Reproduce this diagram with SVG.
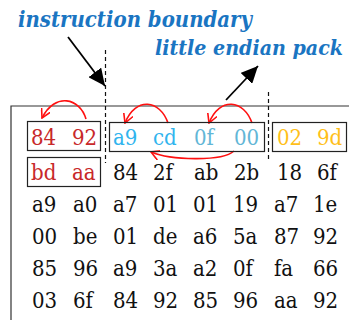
<svg xmlns="http://www.w3.org/2000/svg" width="349" height="322" viewBox="0 0 349 322">
<defs>
<style>
.hdr{font-family:"DejaVu Serif Condensed","DejaVu Serif",serif;font-stretch:condensed;font-weight:bold;font-style:italic;font-size:23px;fill:#1a75c2}
.hx{font-family:"DejaVu Serif Condensed","DejaVu Serif",serif;font-stretch:condensed;font-size:22px;fill:#111}
.red{fill:#c8282a}
.cy{fill:#30b4ee}
.cy2{fill:#62b6d6}
.or{fill:#ffbf1a}
.box{fill:none;stroke:#222;stroke-width:1.2}
.dash{stroke:#111;stroke-width:1.2;stroke-dasharray:4,3;fill:none}
.arc{fill:none;stroke:#ff1010;stroke-width:1.6}
.blk{stroke:#000;stroke-width:1.8;fill:none}
</style>
<marker id="ah" markerWidth="10" markerHeight="10" refX="9" refY="5" orient="auto" markerUnits="userSpaceOnUse" viewBox="0 0 10 10">
<path d="M0,0 L9,5 L0,10" fill="none" stroke="#ff1010" stroke-width="1.6"/>
</marker>
<marker id="bh" markerWidth="18" markerHeight="16" refX="17" refY="8" orient="auto" markerUnits="userSpaceOnUse" viewBox="0 0 18 16">
<path d="M0,0 L17,8 L0,16 Z" fill="#000"/>
</marker>
</defs>
<g id="frame">
<path d="M11,320 L11,106 L349,106" fill="none" stroke="#333" stroke-width="1.2"/>
</g>
<g id="labels">
<text class="hdr" x="18" y="27" textLength="234" lengthAdjust="spacingAndGlyphs">instruction boundary</text>
<text class="hdr" x="155" y="55" font-size="21" style="font-size:21px" textLength="188" lengthAdjust="spacingAndGlyphs">little endian pack</text>
</g>
<g id="connectors">
<line class="dash" x1="105.5" y1="50" x2="105.5" y2="163"/>
<line class="dash" x1="268.5" y1="92" x2="268.5" y2="162"/>
<line class="blk" x1="68" y1="37" x2="105" y2="86" marker-end="url(#bh)"/>
<line class="blk" x1="226" y1="100" x2="258" y2="66" marker-end="url(#bh)"/>
<path class="arc" d="M86,119 C80,98 55,92 42,118" marker-end="url(#ah)"/>
<path class="arc" d="M168,123 C160,100 136,96 125,123" marker-end="url(#ah)"/>
<path class="arc" d="M252,123 C244,100 220,96 209,123" marker-end="url(#ah)"/>
<path class="arc" d="M234,151 C222,162 170,160 151,152" marker-end="url(#ah)"/>
</g>
<g id="boxA"><rect class="box" x="27.5" y="121.5" width="73" height="29"/>
<text class="hx red" x="31" y="145">84</text><text class="hx red" x="72" y="145">92</text></g>
<g id="boxB"><rect class="box" x="27.5" y="157.5" width="73" height="29"/>
<text class="hx red" x="31" y="180">bd</text><text class="hx red" x="72" y="180">aa</text></g>
<g id="boxC"><rect class="box" x="109.5" y="122.5" width="155" height="29"/>
<text class="hx cy" x="113" y="145">a9</text><text class="hx cy" x="153" y="145">cd</text>
<text class="hx cy2" x="194" y="145">0f</text><text class="hx cy2" x="234" y="145">00</text></g>
<g id="boxD"><rect class="box" x="272.5" y="122.5" width="74" height="29"/>
<text class="hx or" x="277" y="145">02</text><text class="hx or" x="317" y="145">9d</text></g>
<g id="row2">
<text class="hx" x="113" y="180">84</text><text class="hx" x="153" y="180">2f</text><text class="hx" x="194" y="180">ab</text><text class="hx" x="234" y="180">2b</text><text class="hx" x="277" y="180">18</text><text class="hx" x="317" y="180">6f</text>
</g>
<g id="row3">
<text class="hx" x="32" y="212">a9</text><text class="hx" x="73" y="212">a0</text><text class="hx" x="113" y="212">a7</text><text class="hx" x="153" y="212">01</text><text class="hx" x="193" y="212">01</text><text class="hx" x="233" y="212">19</text><text class="hx" x="274" y="212">a7</text><text class="hx" x="313" y="212">1e</text>
</g>
<g id="row4">
<text class="hx" x="32" y="244">00</text><text class="hx" x="73" y="244">be</text><text class="hx" x="113" y="244">01</text><text class="hx" x="153" y="244">de</text><text class="hx" x="193" y="244">a6</text><text class="hx" x="233" y="244">5a</text><text class="hx" x="274" y="244">87</text><text class="hx" x="313" y="244">92</text>
</g>
<g id="row5">
<text class="hx" x="32" y="276">85</text><text class="hx" x="73" y="276">96</text><text class="hx" x="113" y="276">a9</text><text class="hx" x="153" y="276">3a</text><text class="hx" x="193" y="276">a2</text><text class="hx" x="233" y="276">0f</text><text class="hx" x="274" y="276">fa</text><text class="hx" x="313" y="276">66</text>
</g>
<g id="row6">
<text class="hx" x="32" y="308">03</text><text class="hx" x="73" y="308">6f</text><text class="hx" x="113" y="308">84</text><text class="hx" x="153" y="308">92</text><text class="hx" x="193" y="308">85</text><text class="hx" x="233" y="308">96</text><text class="hx" x="274" y="308">aa</text><text class="hx" x="313" y="308">92</text>
</g>
</svg>
